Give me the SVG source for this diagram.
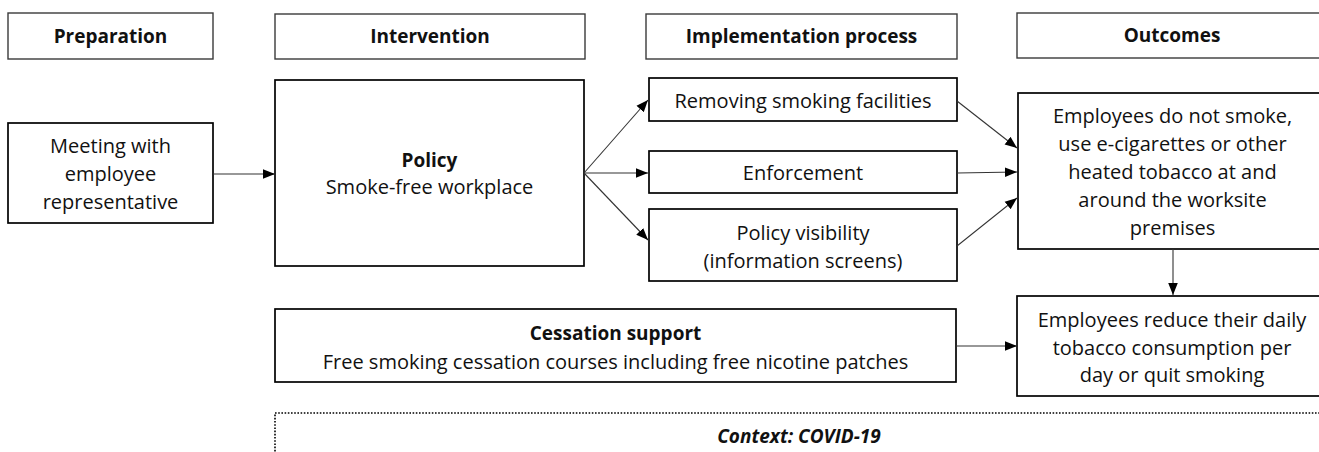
<svg xmlns="http://www.w3.org/2000/svg" width="1319" height="452" viewBox="0 0 1319 452">
<style>
  .hdr { fill: #fff; stroke: #3a3a3a; stroke-width: 1.4; }
  .box { fill: #fff; stroke: #000; stroke-width: 1.7; }
  .ctx { fill: none; stroke: #000; stroke-width: 1.6; stroke-dasharray: 1.6 1.6; }
  text { font-family: "Open Sans", "Liberation Sans", sans-serif; fill: #111; text-anchor: middle; }
  .h { font-size: 19px; font-weight: bold; }
  .t { font-size: 20px; }
  .b { font-size: 19px; font-weight: bold; }
  .bi { font-size: 19px; font-weight: bold; font-style: italic; }
  .conn line { stroke: #333; stroke-width: 1.1; marker-end: url(#arr); }
</style>
<defs>
  <marker id="arr" markerUnits="userSpaceOnUse" markerWidth="12" markerHeight="12" viewBox="0 0 12 12" refX="12" refY="6" orient="auto">
    <path d="M0,1.2 L12,6 L0,10.8 Z" fill="#000"/>
  </marker>
</defs>
<rect width="1319" height="452" fill="#fff"/>

<g id="hdr-preparation"><rect class="hdr" x="8" y="13" width="205" height="46"/><text class="h" x="110.5" y="43">Preparation</text></g>
<g id="hdr-intervention"><rect class="hdr" x="275" y="14" width="310" height="45"/><text class="h" x="430" y="43">Intervention</text></g>
<g id="hdr-implementation"><rect class="hdr" x="646" y="14" width="311" height="45"/><text class="h" x="801.5" y="43">Implementation process</text></g>
<g id="hdr-outcomes"><rect class="hdr" x="1017" y="13" width="310" height="45"/><text class="h" x="1172" y="42">Outcomes</text></g>

<g id="meeting"><rect class="box" x="8" y="123" width="205" height="100"/>
  <text class="t" x="110.5" y="153">Meeting with</text>
  <text class="t" x="110.5" y="181">employee</text>
  <text class="t" x="110.5" y="209">representative</text></g>

<g id="policy"><rect class="box" x="275" y="80" width="309" height="186"/>
  <text class="b" x="429.5" y="167">Policy</text>
  <text class="t" x="429.5" y="194">Smoke-free workplace</text></g>

<g id="removing"><rect class="box" x="649" y="78" width="308" height="43"/>
  <text class="t" x="803" y="108">Removing smoking facilities</text></g>
<g id="enforcement"><rect class="box" x="649" y="151" width="308" height="42"/>
  <text class="t" x="803" y="180">Enforcement</text></g>
<g id="visibility"><rect class="box" x="649" y="209" width="308" height="72"/>
  <text class="t" x="803" y="240">Policy visibility</text>
  <text class="t" x="803" y="268">(information screens)</text></g>

<g id="outcome1"><rect class="box" x="1018" y="93" width="309" height="156"/>
  <text class="t" x="1172.5" y="123">Employees do not smoke,</text>
  <text class="t" x="1172.5" y="151">use e-cigarettes  or other</text>
  <text class="t" x="1172.5" y="179">heated tobacco at and</text>
  <text class="t" x="1172.5" y="207">around the worksite</text>
  <text class="t" x="1172.5" y="235">premises</text></g>

<g id="outcome2"><rect class="box" x="1017" y="296" width="310" height="100"/>
  <text class="t" x="1172" y="327">Employees reduce their daily</text>
  <text class="t" x="1172" y="355">tobacco consumption per</text>
  <text class="t" x="1172" y="382">day or quit smoking</text></g>

<g id="cessation"><rect class="box" x="275" y="309" width="681" height="73"/>
  <text class="b" x="615.5" y="340">Cessation support</text>
  <text class="t" x="615.5" y="369">Free smoking cessation courses including free nicotine patches</text></g>

<g id="context"><rect class="ctx" x="275" y="413" width="1060" height="60"/>
  <text class="bi" x="799" y="443">Context: COVID-19</text></g>

<g id="connectors" class="conn">
  <line x1="213" y1="174" x2="275" y2="174"/>
  <line x1="584" y1="173" x2="648" y2="100"/>
  <line x1="584" y1="173" x2="648" y2="173"/>
  <line x1="584" y1="173" x2="648" y2="240"/>
  <line x1="957" y1="101" x2="1017" y2="148"/>
  <line x1="957" y1="173" x2="1017" y2="172"/>
  <line x1="957" y1="246" x2="1017" y2="198"/>
  <line x1="1173" y1="249" x2="1173" y2="295"/>
  <line x1="956" y1="346" x2="1017" y2="346"/>
</g>
</svg>
